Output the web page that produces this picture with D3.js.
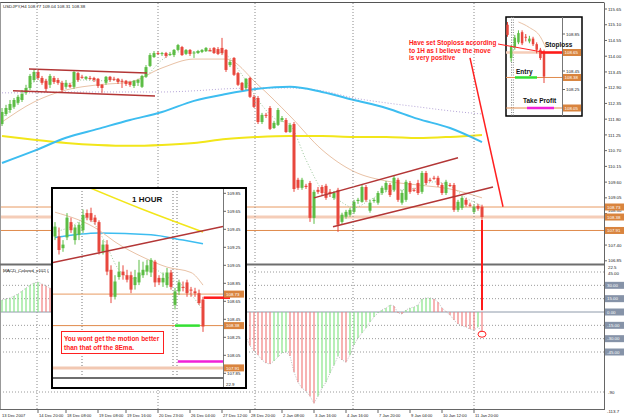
<!DOCTYPE html>
<html><head><meta charset="utf-8">
<script src="https://cdn.jsdelivr.net/npm/d3@7"></script>
<style>body{margin:0;background:#fff}svg{display:block;font-family:"Liberation Sans",Arial,sans-serif}</style>
</head><body><svg id="c" width="625" height="420"></svg>
<script>
// ---------------- DATA ----------------
const titleText = "USDJPY,H4  108.77 109.04 108.31 108.38";
// main H4 candles [open, high, low, close]
const mainOHLC = [
[111.63,112.19,111.56,112.05],[111.98,112.30,111.91,112.19],[112.12,112.47,112.02,112.33],[112.23,112.54,112.16,112.47],
[112.37,112.65,112.30,112.58],[112.47,112.82,112.40,112.68],[112.72,113.00,112.65,112.89],[112.89,113.38,112.82,113.31],
[113.17,113.52,113.10,113.45],[113.45,113.52,113.17,113.24],[113.24,113.31,113.00,113.07],[113.14,113.21,112.75,112.86],
[113.00,113.38,112.89,113.31],[113.24,113.31,113.03,113.10],[113.17,113.24,113.00,113.07],[113.07,113.14,112.75,112.82],
[112.93,113.17,112.86,113.07],[113.00,113.07,112.89,112.93],[112.93,113.48,112.86,113.45],[113.41,113.45,113.10,113.17],
[113.28,113.35,113.21,113.26],[113.21,113.31,113.17,113.28],[113.24,113.31,113.17,113.22],[113.24,113.28,113.10,113.17],
[113.21,113.24,112.89,112.96],[113.00,113.03,112.72,112.89],[113.07,113.31,113.00,113.28],[113.28,113.31,113.10,113.17],
[113.21,113.28,113.14,113.19],[113.21,113.24,113.03,113.10],[113.14,113.21,112.89,113.12],[113.14,113.17,112.96,113.03],
[113.10,113.14,112.93,113.00],[112.96,113.17,112.89,113.14],[113.07,113.21,112.96,113.17],[112.93,113.35,112.89,113.31],
[113.28,113.69,113.24,113.62],[113.66,114.11,113.62,114.04],[113.97,114.18,113.94,114.11],[114.11,114.18,114.04,114.09],
[114.08,114.15,114.01,114.11],[114.11,114.15,113.94,114.01],[114.04,114.15,114.01,114.08],[114.04,114.25,113.97,114.22],
[114.22,114.43,114.18,114.39],[114.32,114.36,114.01,114.04],[114.08,114.25,114.04,114.22],[114.22,114.25,114.01,114.08],
[114.11,114.18,113.94,114.13],[114.11,114.22,114.08,114.18],[114.15,114.25,114.11,114.22],[114.18,114.32,114.15,114.29],
[114.22,114.29,114.15,114.20],[114.29,114.32,114.08,114.11],[114.25,114.32,114.04,114.08],[114.29,114.64,114.04,114.11],
[114.22,114.25,113.45,113.52],[113.69,113.87,113.62,113.80],[113.94,113.97,113.31,113.35],[113.41,113.45,112.96,113.00],
[113.07,113.10,112.79,112.82],[112.89,113.24,112.82,113.21],[113.24,113.28,112.54,112.58],[112.58,112.65,112.19,112.23],
[112.54,112.61,111.63,111.70],[111.70,112.02,111.63,111.95],[111.95,112.02,111.84,111.93],[112.19,112.26,111.42,111.46],
[111.49,111.74,111.46,111.67],[111.60,112.19,111.56,112.12],[111.77,111.91,111.70,111.84],[111.77,111.84,111.32,111.35],
[111.35,111.67,111.32,111.60],[111.63,111.70,109.26,109.36],[109.68,109.75,109.33,109.40],[109.40,109.75,109.33,109.68],
[109.47,109.54,109.36,109.43],[109.57,109.64,108.21,108.35],[108.35,109.33,108.14,109.26],[109.33,109.43,109.19,109.26],
[109.43,109.50,109.12,109.22],[109.47,109.54,108.98,109.05],[109.26,109.36,109.08,109.19],[109.05,109.29,108.98,109.22],
[109.33,109.40,107.86,108.11],[108.21,108.53,108.14,108.46],[108.39,108.63,108.32,108.56],[108.46,108.70,108.39,108.63],
[108.56,108.98,108.49,108.91],[108.94,109.05,108.84,108.98],[108.91,109.50,108.88,109.43],[109.43,109.50,108.91,108.98],
[108.60,108.98,108.53,108.88],[108.94,109.05,108.88,108.98],[108.88,109.29,108.81,109.22],[109.22,109.47,109.15,109.40],
[109.33,109.64,109.26,109.57],[109.50,109.57,109.08,109.15],[109.33,109.82,109.26,109.75],[109.68,109.75,108.91,108.98],
[108.88,109.33,108.81,109.22],[108.98,109.68,108.91,109.61],[109.57,109.64,109.19,109.26],[109.33,109.40,109.26,109.31],
[109.57,109.68,109.15,109.22],[109.26,109.99,109.19,109.92],[109.92,109.99,109.50,109.57],[109.68,109.75,109.61,109.66],
[109.75,109.82,109.68,109.73],[109.75,109.82,109.43,109.50],[109.50,109.57,109.15,109.22],[109.22,109.68,109.15,109.61],
[109.50,109.57,109.43,109.48],[109.50,109.57,108.56,108.63],[108.63,108.98,108.56,108.91],[108.70,109.12,108.63,109.05],
[108.98,109.05,108.74,108.81],[108.81,108.88,108.74,108.79],[108.56,108.81,108.49,108.74],[108.77,108.84,108.60,108.67],
[108.74,108.81,108.28,108.38]
];
// moving averages read every 8 bars
const maIdx = [0,8,16,24,32,40,48,56,64,72,80,88,96,104,112,120];
const yellowMA = [111.21,111.08,110.97,110.90,110.87,110.90,110.97,111.11,111.18,111.21,111.21,111.18,111.18,111.14,111.18,111.25];
const blueMA   = [110.27,110.69,111.15,111.46,111.77,112.05,112.44,112.68,112.86,112.93,112.75,112.47,112.19,111.81,111.49,111.00];
const purpleMA = [112.72,112.72,112.75,112.75,112.75,112.75,112.79,112.86,112.89,112.89,112.79,112.54,112.37,112.23,112.09,111.98];
const tanMA    = [111.70,112.40,112.82,113.00,113.10,113.59,113.90,113.90,113.00,111.91,110.73,109.97,109.64,109.50,109.36,109.05];
// 8 EMA read every 4 bars
const emaIdx = d3.range(0,121,4);
const ema8 = [111.84,112.40,113.10,113.17,113.03,113.17,113.14,113.17,113.10,113.31,113.87,114.15,114.15,114.18,114.04,113.35,
              112.47,111.84,111.60,110.38,109.33,108.98,108.70,108.98,109.26,109.33,109.40,109.61,109.47,109.05,108.77];
// MACD histogram, one per bar
const macdVals = [13.5,14.7,15.8,18,20.3,23.7,27,30.4,32.7,33.8,31.6,29.3,27,
 26,24,22,21,20,22,23,22,21,20,18,16,14,14,13,12,11,10,9,8,8,8,10,13,18,21,23,24,24,24,25,27,26,26,25,24,24,24,24,23,22,21,19,13,9,4,-3,-10,
 -28,-38,-44,-48.5,-54,-57.5,-58.6,-55,-50.7,-46,-45,-49.6,-67.6,-79,-85.7,-89,-94.7,-102.6,-94.7,-85.7,-79,-68.8,-59.8,-49.6,-54,-56.4,
 -48.5,-37.2,-29.3,-23.7,-18,-11.3,-5.6,-1.1,2.3,4.5,7.9,6.8,-1,-2.3,2.3,4.5,5.6,7.9,14.7,15.8,15.8,14.7,11.3,4.5,0.5,-3.4,-9,-13.5,
 -15.8,-16.9,-19.2,-20.3,-16.9,-22.5];
// trend lines [idx1, price1, idx2, price2]
const trendLines = [[6.75,113.55,36.25,113.41],[2.75,112.79,38.25,112.61],[78,109.05,114,110.45],[82.75,108.04,122.75,109.43]];
const levelPrices = [108.73,108.38,107.91];
const priceTicks = [115.65,115.10,114.55,114.00,113.45,112.90,112.35,111.80,111.25,110.70,110.15,109.60,109.05,108.50,107.40,106.85];
const macdBoxTicks = [30,15,0,-15,-30,-45];
const macdGrid = [45,30,15,-15,-30,-45,-90];
const periodSeps = [8.75,39,63.25,87.75,118];
const timeIdx = [0,9,16,24,31,39,47,55,62,70,78,86,94,102,110,118];
const timeLabels = ["13 Dec 2007","14 Dec 20:00","18 Dec 08:00","19 Dec 08:00","19 Dec 16:00","20 Dec 23:00","26 Dec 04:00","27 Dec 12:00",
 "28 Dec 20:00","2 Jan 08:00","3 Jan 16:00","4 Jan 16:00","7 Jan 20:00","9 Jan 04:00","10 Jan 12:00","11 Jan 20:00"];

// 1 HOUR inset
const hourOHLC = [
[109.37,109.53,109.33,109.48],[109.37,109.47,109.17,109.22],[109.24,109.33,109.20,109.28],[109.36,109.63,109.33,109.58],
[109.53,109.58,109.41,109.44],[109.33,109.50,109.28,109.47],[109.39,109.53,109.33,109.50],[109.44,109.67,109.41,109.61],
[109.63,109.67,109.55,109.58],[109.63,109.69,109.53,109.55],[109.58,109.61,109.50,109.53],[109.53,109.55,109.17,109.20],
[109.20,109.33,109.17,109.28],[109.28,109.33,108.94,108.98],[109.00,109.05,108.63,108.70],[108.70,108.94,108.67,108.87],
[108.92,109.09,108.89,108.98],[108.98,109.05,108.89,108.94],[108.94,109.00,108.86,108.89],[108.94,108.98,108.74,108.78],
[108.83,109.00,108.78,108.92],[108.86,109.11,108.83,108.97],[108.94,109.09,108.91,109.00],[108.98,109.11,108.94,109.05],
[108.97,109.13,108.92,109.11],[109.09,109.11,108.81,108.86],[108.91,108.94,108.83,108.86],[108.86,108.97,108.81,108.91],
[108.83,109.02,108.80,108.97],[108.97,109.00,108.78,108.81],[108.61,108.80,108.56,108.76],[108.76,108.89,108.72,108.86],
[108.81,108.87,108.76,108.80],[108.86,108.89,108.70,108.74],[108.78,108.81,108.70,108.77],[108.76,108.80,108.70,108.74],
[108.74,108.78,108.61,108.63],[108.67,108.70,108.31,108.37]
];
const hourYellowIdx = [5,22,37], hourYellow = [109.98,109.67,109.42];
const hourBlueIdx = [0,11,24,32,37], hourBlue = [109.36,109.41,109.39,109.33,109.29];
const hourTanIdx = [0,11,15,22,28,34,37], hourTan = [109.64,109.44,109.31,109.14,109.03,108.97,108.83];
const hourEmaIdx = [0,4,8,12,16,20,24,28,32,37], hourEma = [109.42,109.48,109.58,109.35,109.00,108.90,109.02,108.92,108.82,108.55];
const hourTrend = [-0.5,109.08,42,109.48];
const hourSeps = [6.75,29.5,30.5];
const hourTicks = [109.85,109.65,109.45,109.25,109.05,108.85,108.65,108.45,108.25,108.05,107.85];
const hourStop = 108.69, hourEntry = 108.38, hourTP = 107.98;

// top-right zoom inset
const zoomOHLC = [
[108.95,108.98,108.82,108.84],[108.59,108.73,108.55,108.71],[108.71,108.84,108.68,108.81],[108.76,108.89,108.74,108.86],
[108.87,108.89,108.73,108.75],[108.82,108.85,108.77,108.81],[108.77,108.83,108.75,108.80],[108.80,108.82,108.72,108.74],
[108.74,108.76,108.64,108.68],[108.68,108.70,108.57,108.59],[108.66,108.68,108.32,108.39]
];
const zoomTanIdx = [3,6,9,10.5], zoomTan = [108.98,108.92,108.82,108.70];
const zoomTicks = [108.85,108.45,108.25];
const zoomStop = 108.65, zoomEntry = 108.38, zoomTP = 108.05;

// ---------------- DRAW ----------------
const svg = d3.select('#c');
const UP = '#5cbd45', DN = '#e8473d';
const x = d3.scaleLinear().domain([0,120]).range([2,482]);
const y = d3.scaleLinear().domain([115.65,106.85]).range([9,260.8]);
const my = d3.scaleLinear().domain([45,-90]).range([272,392]);

svg.append('rect').attr('width',625).attr('height',420).attr('fill','#fff');
const defs = svg.append('defs');
function clip(id,x0,y0,w,h){defs.append('clipPath').attr('id',id).append('rect').attr('x',x0).attr('y',y0).attr('width',w).attr('height',h);}
clip('cp',0,3,604,260); clip('cm',0,266,604,143);

function candles(g, data, xs, ys, bw){
  g.append('g').selectAll('line').data(data).join('line')
    .attr('x1',(d,i)=>xs(i)).attr('x2',(d,i)=>xs(i))
    .attr('y1',d=>ys(d[1])).attr('y2',d=>ys(d[2]))
    .attr('stroke',d=>d[3]>=d[0]?UP:DN).attr('stroke-width',1);
  g.append('g').selectAll('rect').data(data).join('rect')
    .attr('x',(d,i)=>xs(i)-bw/2).attr('width',bw)
    .attr('y',d=>ys(Math.max(d[0],d[3])))
    .attr('height',d=>Math.max(1,Math.abs(ys(d[0])-ys(d[3]))))
    .attr('fill',d=>d[3]>=d[0]?UP:DN);
}
function path(g, idx, vals, xs, ys, color, w, dash){
  g.append('path').datum(idx.map((v,i)=>[v,vals[i]]))
   .attr('d', d3.line().x(d=>xs(d[0])).y(d=>ys(d[1])).curve(d3.curveMonotoneX))
   .attr('fill','none').attr('stroke',color).attr('stroke-width',w).attr('stroke-dasharray',dash||null);
}

// price panel
const pg = svg.append('g').attr('clip-path','url(#cp)');
svg.append('g').selectAll('line').data(periodSeps).join('line')
  .attr('x1',d=>x(d)).attr('x2',d=>x(d)).attr('y1',3).attr('y2',409)
  .attr('stroke','#8a8a8a').attr('stroke-dasharray','1,2');
pg.append('line').attr('x1',0).attr('x2',604).attr('y1',y(levelPrices[0])).attr('y2',y(levelPrices[0])).attr('stroke','#e89a62').attr('stroke-width',1);
pg.append('line').attr('x1',0).attr('x2',604).attr('y1',y(levelPrices[1])).attr('y2',y(levelPrices[1])).attr('stroke','#f5cdb8').attr('stroke-width',3);
pg.append('line').attr('x1',0).attr('x2',604).attr('y1',y(levelPrices[2])).attr('y2',y(levelPrices[2])).attr('stroke','#e08a4c').attr('stroke-width',1);

path(pg, maIdx, purpleMA, x, y, '#b6a6d8', 1, '1,2');
path(pg, maIdx, tanMA, x, y, '#e9c2a6', 1);
path(pg, maIdx, yellowMA, x, y, '#f2e61a', 2);
path(pg, maIdx, blueMA, x, y, '#3dbdf0', 2);
path(pg, emaIdx, ema8, x, y, '#9cc79c', 1, '1,2');
candles(pg, mainOHLC, x, y, 3);
pg.append('g').selectAll('line').data(trendLines).join('line')
  .attr('x1',d=>x(d[0])).attr('y1',d=>y(d[1])).attr('x2',d=>x(d[2])).attr('y2',d=>y(d[3]))
  .attr('stroke','#b33636').attr('stroke-width',1.5);

svg.append('text').attr('x',3).attr('y',8).attr('font-size',4.4).attr('fill','#222').text(titleText);

// MACD panel
const mg = svg.append('g').attr('clip-path','url(#cm)');
mg.append('g').selectAll('line').data(macdGrid).join('line')
  .attr('x1',0).attr('x2',604).attr('y1',d=>my(d)).attr('y2',d=>my(d))
  .attr('stroke','#9a9a9a').attr('stroke-dasharray','1,2');
mg.append('line').attr('x1',0).attr('x2',604).attr('y1',my(0)).attr('y2',my(0)).attr('stroke','#8e9aaa');
mg.append('g').selectAll('line').data(macdVals).join('line')
  .attr('x1',(d,i)=>x(i)).attr('x2',(d,i)=>x(i)).attr('y1',my(0)).attr('y2',d=>my(d))
  .attr('stroke',(d,i)=> (i>0 && d<macdVals[i-1]) ? '#f28080' : '#86e486').attr('stroke-width',1.2);
mg.append('path').datum(macdVals)
  .attr('d',d3.line().x((d,i)=>x(i)).y(d=>my(d)))
  .attr('fill','none').attr('stroke','#aaa').attr('stroke-width',0.8).attr('stroke-dasharray','1,1.5');
svg.append('text').attr('x',3).attr('y',272).attr('font-size',4.4).attr('fill','#222').text('MACD_Colored_v102 (');

// frame
svg.append('line').attr('x1',0).attr('x2',604).attr('y1',2.5).attr('y2',2.5).attr('stroke','#555');
svg.append('line').attr('x1',0.5).attr('x2',0.5).attr('y1',2.5).attr('y2',409).attr('stroke','#999');
svg.append('line').attr('x1',0).attr('x2',604).attr('y1',264.5).attr('y2',264.5).attr('stroke','#6e6e6e').attr('stroke-width',2);
svg.append('line').attr('x1',0).attr('x2',604).attr('y1',409.5).attr('y2',409.5).attr('stroke','#666');
svg.append('line').attr('x1',604.5).attr('x2',604.5).attr('y1',2.5).attr('y2',410).attr('stroke','#666');

// right axis
const ra = svg.append('g').attr('font-size',4.4).attr('fill','#222');
priceTicks.forEach(p=>{
  const dy = (p===108.50) ? -1.2 : 1.6;
  ra.append('line').attr('x1',604).attr('x2',607).attr('y1',y(p)).attr('y2',y(p)).attr('stroke','#666');
  ra.append('text').attr('x',608).attr('y',y(p)+dy).text(p.toFixed(2));
});
levelPrices.forEach(p=>{
  ra.append('rect').attr('x',605).attr('y',y(p)-3.5).attr('width',19).attr('height',7).attr('fill','#d9843e');
  ra.append('text').attr('x',607).attr('y',y(p)+1.6).attr('fill','#fff').text(p.toFixed(2));
});
ra.append('text').attr('x',608).attr('y',268.5).text('22.5');
ra.append('text').attr('x',608).attr('y',my(45)+2.6).text('45.00');
macdBoxTicks.forEach(v=>{
  ra.append('rect').attr('x',605).attr('y',my(v)-3.5).attr('width',19).attr('height',7).attr('fill','#8693a8');
  ra.append('text').attr('x',607).attr('y',my(v)+1.6).attr('fill','#fff').text(v.toFixed(2));
});
ra.append('text').attr('x',608).attr('y',my(-90)+1.6).text('-90');
ra.append('text').attr('x',607).attr('y',my(-113.7)).text('-113.7');

// time axis
const ta = svg.append('g').attr('font-size',4.1).attr('fill','#222');
timeIdx.forEach((t,i)=>{
  const xx = i===0 ? 1 : x(t);
  if(i>0) ta.append('line').attr('x1',xx).attr('x2',xx).attr('y1',409).attr('y2',413).attr('stroke','#666');
  ta.append('text').attr('x',xx+1).attr('y',417).text(timeLabels[i]);
});

// ---------------- 1 HOUR inset ----------------
const hx = d3.scaleLinear().domain([0,37]).range([55,203]);
const hy = d3.scaleLinear().domain([109.85,107.85]).range([193.3,373.3]);
clip('ch',53,189,170,188);
const ig = svg.append('g');
ig.append('rect').attr('x',52).attr('y',188).attr('width',194).attr('height',200).attr('fill','#fff').attr('stroke','#000').attr('stroke-width',2);
const ih = ig.append('g').attr('clip-path','url(#ch)');
ih.append('g').selectAll('line').data(hourSeps).join('line')
  .attr('x1',d=>hx(d)).attr('x2',d=>hx(d)).attr('y1',188).attr('y2',388).attr('stroke','#777').attr('stroke-dasharray','1,2');
ih.append('line').attr('x1',53).attr('x2',223).attr('y1',hy(108.73)).attr('y2',hy(108.73)).attr('stroke','#e89a62');
ih.append('line').attr('x1',53).attr('x2',223).attr('y1',hy(108.38)).attr('y2',hy(108.38)).attr('stroke','#e08a4c');
ih.append('line').attr('x1',53).attr('x2',223).attr('y1',hy(107.91)).attr('y2',hy(107.91)).attr('stroke','#f2c8b2').attr('stroke-width',3);
path(ih, hourYellowIdx, hourYellow, hx, hy, '#f2e61a', 1.5);
path(ih, hourBlueIdx, hourBlue, hx, hy, '#3dbdf0', 1.5);
path(ih, hourTanIdx, hourTan, hx, hy, '#e9c2a6', 1);
path(ih, hourEmaIdx, hourEma, hx, hy, '#9cc79c', 1, '1,2');
candles(ih, hourOHLC, hx, hy, 3);
ih.append('line').attr('x1',hx(hourTrend[0])).attr('y1',hy(hourTrend[1])).attr('x2',hx(hourTrend[2])).attr('y2',hy(hourTrend[3]))
  .attr('stroke','#b33636').attr('stroke-width',1.5);
ig.append('line').attr('x1',53).attr('x2',223).attr('y1',378).attr('y2',378).attr('stroke','#6e6e6e').attr('stroke-width',2);
ig.append('line').attr('x1',223.5).attr('x2',223.5).attr('y1',189).attr('y2',387).attr('stroke','#777');
ig.append('line').attr('x1',hx(37.2)).attr('x2',230).attr('y1',hy(hourStop)).attr('y2',hy(hourStop)).attr('stroke','#ff1a1a').attr('stroke-width',2.5);
ig.append('line').attr('x1',hx(30)).attr('x2',hx(36.2)).attr('y1',hy(hourEntry)).attr('y2',hy(hourEntry)).attr('stroke','#33e033').attr('stroke-width',2.5);
ig.append('line').attr('x1',hx(30.7)).attr('x2',223).attr('y1',hy(hourTP)).attr('y2',hy(hourTP)).attr('stroke','#f020d8').attr('stroke-width',2.5);
const il = ig.append('g').attr('font-size',4.4).attr('fill','#222');
hourTicks.forEach(p=>{
  il.append('line').attr('x1',223).attr('x2',226).attr('y1',hy(p)).attr('y2',hy(p)).attr('stroke','#666');
  il.append('text').attr('x',227).attr('y',hy(p)+1.6).text(p.toFixed(2));
});
levelPrices.forEach(p=>{
  il.append('rect').attr('x',224).attr('y',hy(p)-3.5).attr('width',20).attr('height',7).attr('fill','#d9843e');
  il.append('text').attr('x',226).attr('y',hy(p)+1.6).attr('fill','#fff').text(p.toFixed(2));
});
il.append('text').attr('x',226).attr('y',386).text('22.9');
ig.append('text').attr('x',132).attr('y',202).attr('font-size',8).attr('font-weight','bold').attr('fill','#111').text('1 HOUR');
ig.append('rect').attr('x',61.5).attr('y',331.5).attr('width',102).attr('height',22).attr('fill','#fff').attr('stroke','#ff2020').attr('stroke-width',1);
ig.append('text').attr('x',64).attr('y',341).attr('font-size',6.5).attr('font-weight','bold').attr('fill','#ff2020').text('You wont get the motion better');
ig.append('text').attr('x',64).attr('y',350).attr('font-size',6.5).attr('font-weight','bold').attr('fill','#ff2020').text('than that off the 8Ema.');

// ---------------- top-right inset ----------------
const zx = d3.scaleLinear().domain([0,10]).range([507.5,544]);
const zy = d3.scaleLinear().domain([108.85,108.05]).range([34,108]);
clip('cz',506,17,56,99);
const zg = svg.append('g');
zg.append('rect').attr('x',506).attr('y',17).attr('width',76).attr('height',99).attr('fill','#fff').attr('stroke','#000').attr('stroke-width',1.5);
const zc = zg.append('g').attr('clip-path','url(#cz)');
zc.append('g').selectAll('line').data([1.1,1.6]).join('line')
  .attr('x1',d=>zx(d)).attr('x2',d=>zx(d)).attr('y1',17).attr('y2',116).attr('stroke','#888').attr('stroke-dasharray','1,1.5');
zc.append('line').attr('x1',506).attr('x2',562).attr('y1',zy(zoomStop)).attr('y2',zy(zoomStop)).attr('stroke','#f5cdb8').attr('stroke-width',2.5);
zc.append('line').attr('x1',506).attr('x2',562).attr('y1',zy(zoomEntry)).attr('y2',zy(zoomEntry)).attr('stroke','#e08a4c');
zc.append('line').attr('x1',506).attr('x2',562).attr('y1',zy(zoomTP)).attr('y2',zy(zoomTP)).attr('stroke','#e08a4c');
path(zc, zoomTanIdx, zoomTan, zx, zy, '#e9c2a6', 1);
candles(zc, zoomOHLC, zx, zy, 2.5);
zg.append('line').attr('x1',562.5).attr('x2',562.5).attr('y1',17).attr('y2',116).attr('stroke','#777');
zg.append('line').attr('x1',541).attr('x2',562).attr('y1',zy(zoomStop)).attr('y2',zy(zoomStop)).attr('stroke','#ff1a1a').attr('stroke-width',2.5);
zg.append('line').attr('x1',515).attr('x2',537).attr('y1',zy(zoomEntry)).attr('y2',zy(zoomEntry)).attr('stroke','#33e033').attr('stroke-width',2.5);
zg.append('line').attr('x1',527).attr('x2',554).attr('y1',zy(zoomTP)).attr('y2',zy(zoomTP)).attr('stroke','#f020d8').attr('stroke-width',2.5);
const zl = zg.append('g').attr('font-size',4.4).attr('fill','#222');
zoomTicks.forEach(p=>{
  zl.append('line').attr('x1',562).attr('x2',565).attr('y1',zy(p)).attr('y2',zy(p)).attr('stroke','#666');
  zl.append('text').attr('x',566).attr('y',zy(p)+1.6).text(p.toFixed(2));
});
[zoomStop,zoomEntry,zoomTP].forEach(p=>{
  zl.append('rect').attr('x',563).attr('y',zy(p)-3.5).attr('width',18).attr('height',7).attr('fill','#d9843e');
  zl.append('text').attr('x',564.5).attr('y',zy(p)+1.6).attr('fill','#fff').text(p.toFixed(2));
});
const bt = zg.append('g').attr('font-size',6.5).attr('font-weight','bold').attr('fill','#111');
bt.append('text').attr('x',545).attr('y',47).text('Stoploss');
bt.append('text').attr('x',516).attr('y',74).text('Entry');
bt.append('text').attr('x',523).attr('y',102.5).text('Take Profit');

// ---------------- annotations ----------------
const an = svg.append('g').attr('font-size',6.4).attr('font-weight','bold').attr('fill','#ff2020');
an.append('text').attr('x',409).attr('y',45).text('Have set Stoploss according');
an.append('text').attr('x',409).attr('y',52.5).text('to 1H as I believe the move');
an.append('text').attr('x',409).attr('y',60).text('is very positive');
svg.append('line').attr('x1',498).attr('y1',44).attr('x2',545).attr('y2',zy(zoomStop)).attr('stroke','#ff2020').attr('stroke-width',1);
svg.append('line').attr('x1',x(117)).attr('y1',y(113.94)).attr('x2',x(125.25)).attr('y2',y(108.74)).attr('stroke','#ff2020').attr('stroke-width',1.5);
svg.append('line').attr('x1',x(120)).attr('x2',x(120)).attr('y1',y(108.28)).attr('y2',my(2)).attr('stroke','#ff1a1a').attr('stroke-width',2);
svg.append('ellipse').attr('cx',x(120)).attr('cy',my(-25)).attr('rx',4).attr('ry',3).attr('fill','none').attr('stroke','#ff2020').attr('stroke-width',1);
</script></body></html>
